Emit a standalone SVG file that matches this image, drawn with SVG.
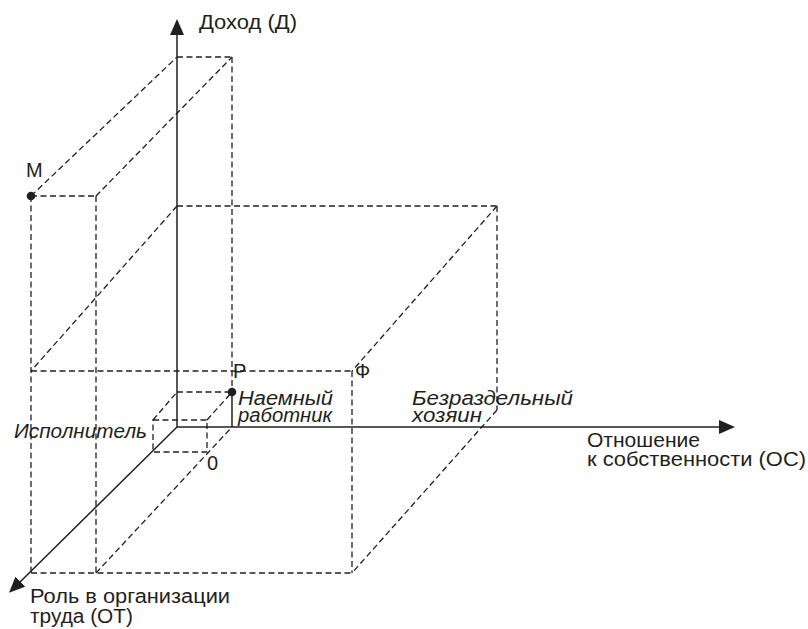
<svg xmlns="http://www.w3.org/2000/svg" width="808" height="629" viewBox="0 0 808 629">
<style>
.ax{stroke:#231f20;stroke-width:1.5;fill:none}
.d{stroke:#231f20;stroke-width:1.3;fill:none;stroke-dasharray:6 3.5}
.t{font-family:"Liberation Sans",Arial,sans-serif;font-size:20px;fill:#231f20}
.i{font-style:italic}
.dot{fill:#231f20}
</style>
<defs>
<marker id="arr" markerUnits="userSpaceOnUse" markerWidth="16" markerHeight="14" viewBox="0 0 16 14" refX="2" refY="7" orient="auto">
<path d="M0,0 L16,7 L0,14 z" fill="#231f20"/>
</marker>
</defs>
<g id="connectors">
<g id="box-M">
<line class="d" x1="31" y1="196" x2="96" y2="196"/>
<line class="d" x1="31" y1="196" x2="31" y2="573"/>
<line class="d" x1="96" y1="196" x2="96" y2="573"/>
<line class="d" x1="177" y1="57" x2="232" y2="57"/>
<line class="d" x1="232" y1="57" x2="232" y2="392"/>
<line class="d" x1="31" y1="196" x2="177" y2="57"/>
<line class="d" x1="96" y1="196" x2="232" y2="57"/>
<line class="d" x1="96" y1="573" x2="232" y2="427"/>
</g>
<g id="box-F">
<line class="d" x1="31" y1="371" x2="352" y2="371"/>
<line class="d" x1="352" y1="371" x2="352" y2="573"/>
<line class="d" x1="31" y1="573" x2="352" y2="573"/>
<line class="d" x1="177" y1="206" x2="497" y2="206"/>
<line class="d" x1="497" y1="206" x2="497" y2="410"/>
<line class="d" x1="177" y1="206" x2="31" y2="371"/>
<line class="d" x1="497" y1="206" x2="352" y2="371"/>
<line class="d" x1="497" y1="410" x2="352" y2="573"/>
</g>
<g id="box-small">
<rect class="d" x="153" y="420" width="54" height="32"/>
<line class="d" x1="177" y1="392" x2="232" y2="392"/>
<line class="d" x1="153" y1="420" x2="177" y2="392"/>
<line class="d" x1="207" y1="420" x2="232" y2="392"/>
</g>
<g id="axes">
<line class="ax" x1="177" y1="427" x2="177" y2="33" marker-end="url(#arr)"/>
<line class="ax" x1="177" y1="427" x2="721" y2="427" marker-end="url(#arr)"/>
<line class="ax" x1="177" y1="427" x2="19" y2="583" marker-end="url(#arr)"/>
<line class="ax" x1="232" y1="392" x2="232" y2="427"/>
</g>
</g>
<g id="axis-D"><text class="t" x="199" y="29" textLength="98" lengthAdjust="spacingAndGlyphs">Доход (Д)</text></g>
<g id="axis-OS"><text class="t" x="587" y="447" textLength="113" lengthAdjust="spacingAndGlyphs">Отношение</text><text class="t" x="587" y="466" textLength="219" lengthAdjust="spacingAndGlyphs">к собственности (ОС)</text></g>
<g id="axis-OT"><text class="t" x="30" y="603" textLength="200" lengthAdjust="spacingAndGlyphs">Роль в организации</text><text class="t" x="30" y="623" textLength="103" lengthAdjust="spacingAndGlyphs">труда (ОТ)</text></g>
<g id="origin"><text class="t" x="207" y="470">0</text></g>
<g id="point-M"><circle class="dot" cx="31" cy="196" r="4.3"/><text class="t" x="26" y="177">М</text></g>
<g id="point-P"><circle class="dot" cx="232" cy="392" r="4.3"/><text class="t" x="233" y="378">Р</text>
<text class="t i" x="238" y="405" textLength="95" lengthAdjust="spacingAndGlyphs">Наемный</text><text class="t i" x="238" y="422" textLength="94" lengthAdjust="spacingAndGlyphs">работник</text></g>
<g id="point-F"><text class="t" x="355" y="378">Ф</text>
<text class="t i" x="412" y="405" textLength="161" lengthAdjust="spacingAndGlyphs">Безраздельный</text><text class="t i" x="412" y="422" textLength="70" lengthAdjust="spacingAndGlyphs">хозяин</text></g>
<g id="executor"><text class="t i" x="14" y="438" textLength="133" lengthAdjust="spacingAndGlyphs">Исполнитель</text></g>
</svg>
